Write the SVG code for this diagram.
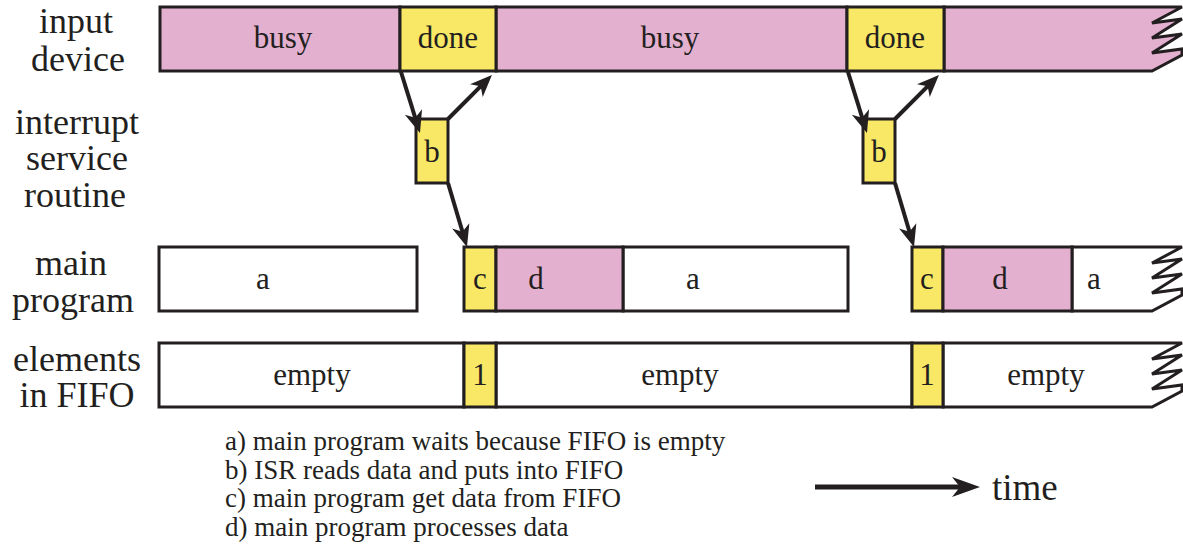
<svg xmlns="http://www.w3.org/2000/svg" width="1183" height="554" viewBox="0 0 1183 554">
<style>
  .pink { fill: #e4b0d0; stroke: #231f20; stroke-width: 3; stroke-linejoin: miter; }
  .yellow { fill: #f9e865; stroke: #231f20; stroke-width: 3; }
  .white { fill: #ffffff; stroke: #231f20; stroke-width: 3; }
  text { font-family: "Liberation Serif", "Times New Roman", serif; fill: #231f20; }
  .lbl { font-size: 36px; text-anchor: middle; }
  .box { font-size: 31px; text-anchor: middle; }
  .leg { font-size: 27px; }
  .arrow { stroke: #231f20; stroke-width: 4; fill: none; }
</style>
<defs>
  <marker id="ah" markerUnits="userSpaceOnUse" markerWidth="40" markerHeight="40" viewBox="-20 -20 40 40" refX="0" refY="0" orient="auto">
    <path d="M8,0 L-14,-9 L-8,0 L-14,9 Z" fill="#231f20"/>
  </marker>
  <marker id="ahBig" markerUnits="userSpaceOnUse" markerWidth="50" markerHeight="50" viewBox="-25 -25 50 50" refX="0" refY="0" orient="auto">
    <path d="M10,0 L-18,-10 L-10,0 L-18,10 Z" fill="#231f20"/>
  </marker>
</defs>
<rect width="1183" height="554" fill="#ffffff"/>

<!-- row labels -->
<g id="label-input">
  <text class="lbl" x="76" y="33">input</text>
  <text class="lbl" x="78" y="71">device</text>
</g>
<g id="label-isr">
  <text class="lbl" x="77" y="134">interrupt</text>
  <text class="lbl" x="77" y="170">service</text>
  <text class="lbl" x="75" y="207">routine</text>
</g>
<g id="label-main">
  <text class="lbl" x="71" y="275">main</text>
  <text class="lbl" x="73" y="312">program</text>
</g>
<g id="label-fifo">
  <text class="lbl" x="77" y="371">elements</text>
  <text class="lbl" x="77" y="407">in FIFO</text>
</g>

<!-- input device row -->
<g id="dev-busy1"><rect class="pink" x="160" y="7" width="240" height="64"/><text class="box" x="283" y="48">busy</text></g>
<g id="dev-busy2"><rect class="pink" x="496" y="7" width="351" height="64"/><text class="box" x="670" y="48">busy</text></g>
<g id="dev-busy3"><path class="pink" d="M944,7 H1182 L1152,23 L1182,19 L1152,38 L1182,34 L1152,53 L1182,49 L1182,55 L1152,71 H944 Z"/></g>
<g id="dev-done1"><rect class="yellow" x="400" y="7" width="96" height="64"/><text class="box" x="448" y="48">done</text></g>
<g id="dev-done2"><rect class="yellow" x="847" y="7" width="97" height="64"/><text class="box" x="895" y="48">done</text></g>

<!-- ISR -->
<g id="isr-b1"><rect class="yellow" x="416" y="119" width="32" height="64"/><text class="box" x="432" y="162">b</text></g>
<g id="isr-b2"><rect class="yellow" x="863" y="119" width="32" height="64"/><text class="box" x="879" y="162">b</text></g>

<!-- main program row -->
<g id="main-a1"><rect class="white" x="159" y="247" width="258" height="64"/><text class="box" x="263" y="289">a</text></g>
<g id="main-a2"><rect class="white" x="623" y="247" width="225" height="64"/><text class="box" x="693" y="289">a</text></g>
<g id="main-a3"><path class="white" d="M1072,247 H1182 L1152,263 L1182,259 L1152,278 L1182,274 L1152,293 L1182,289 L1182,295 L1152,311 H1072 Z"/><text class="box" x="1094" y="289">a</text></g>
<g id="main-c1"><rect class="yellow" x="464" y="247" width="32" height="64"/><text class="box" x="480" y="289">c</text></g>
<g id="main-d1"><rect class="pink" x="496" y="247" width="127" height="64"/><text class="box" x="536" y="289">d</text></g>
<g id="main-c2"><rect class="yellow" x="912" y="247" width="31" height="64"/><text class="box" x="927" y="289">c</text></g>
<g id="main-d2"><rect class="pink" x="943" y="247" width="129" height="64"/><text class="box" x="1000" y="289">d</text></g>

<!-- FIFO row -->
<g id="fifo-empty1"><rect class="white" x="159" y="343" width="305" height="64"/><text class="box" x="312" y="385">empty</text></g>
<g id="fifo-empty2"><rect class="white" x="496" y="343" width="416" height="64"/><text class="box" x="680" y="385">empty</text></g>
<g id="fifo-empty3"><path class="white" d="M943,343 H1182 L1152,359 L1182,355 L1152,374 L1182,370 L1152,389 L1182,385 L1182,391 L1152,407 H943 Z"/><text class="box" x="1046" y="385">empty</text></g>
<g id="fifo-one1"><rect class="yellow" x="464" y="343" width="32" height="64"/><text class="box" x="480" y="385">1</text></g>
<g id="fifo-one2"><rect class="yellow" x="912" y="343" width="31" height="64"/><text class="box" x="927" y="385">1</text></g>

<!-- connectors -->
<g id="connectors">
  <line class="arrow" x1="401" y1="72" x2="417.6" y2="125.4" marker-end="url(#ah)"/>
  <line class="arrow" x1="448" y1="119" x2="486.3" y2="80.7" marker-end="url(#ah)"/>
  <line class="arrow" x1="448" y1="183" x2="464.7" y2="239.3" marker-end="url(#ah)"/>
  <line class="arrow" x1="848" y1="72" x2="864.6" y2="125.4" marker-end="url(#ah)"/>
  <line class="arrow" x1="895" y1="119" x2="933.3" y2="80.7" marker-end="url(#ah)"/>
  <line class="arrow" x1="895" y1="183" x2="911.7" y2="239.3" marker-end="url(#ah)"/>
</g>

<!-- legend -->
<g id="legend">
  <text class="leg" x="225" y="450">a) main program waits because FIFO is empty</text>
  <text class="leg" x="225" y="478.5">b) ISR reads data and puts into FIFO</text>
  <text class="leg" x="225" y="507">c) main program get data from FIFO</text>
  <text class="leg" x="225" y="535.5">d) main program processes data</text>
</g>
<g id="time-axis">
  <line x1="815" y1="487" x2="970" y2="487" stroke="#231f20" stroke-width="5" marker-end="url(#ahBig)"/>
  <text x="992" y="500" style="font-size:37px">time</text>
</g>
</svg>
